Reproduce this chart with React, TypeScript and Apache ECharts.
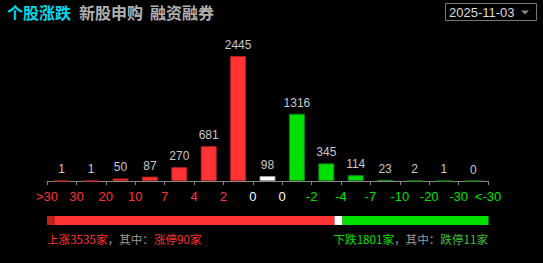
import React, { useEffect, useRef } from "react";
import * as echarts from "echarts";

const bucketLabels = [">30", "30", "20", "10", "7", "4", "2", "0", "0", "-2", "-4", "-7", "-10", "-20", "-30", "<-30"];
const bucketCounts = [1, 1, 50, 87, 270, 681, 2445, 98, 1316, 345, 114, 23, 2, 1, 0];
const upTotal = 3535;
const flatTotal = 98;
const downTotal = 1801;
const limitUp = 90;
const limitDown = 11;
const tabs = ["个股涨跌", "新股申购", "融资融券"];
const dateText = "2025-11-03";

const RED = "#ff3333";
const GREEN = "#00e000";
const WHITE = "#ffffff";
const NUM_FONT = "Liberation Sans";
const CJK_FONT = "Noto Sans CJK SC";

export default function App() {
  const ref = useRef<HTMLDivElement>(null);
  useEffect(() => {
    const chart = echarts.init(ref.current!, null, { renderer: "svg" });
    const barColor = (i: number) => (i < 7 ? RED : i === 7 ? WHITE : GREEN);
    const barBorder = (i: number) => (i < 7 ? "#b02020" : i === 7 ? "#999" : "#108010");
    const labelColor = (i: number) => (i < 7 ? RED : i < 9 ? WHITE : GREEN);
    const total = upTotal + flatTotal + downTotal;
    const hbar = (name: string, v: number, color: string) => ({
      type: "bar",
      name,
      xAxisIndex: 2,
      yAxisIndex: 1,
      stack: "s",
      barWidth: 9,
      data: [v],
      itemStyle: { color },
    });
    const tabX = [7, 79, 150];
    chart.setOption({
      animation: false,
      backgroundColor: "#000",
      grid: [
        { left: 47, right: 55, top: 56, bottom: 82 },
        { left: 47, right: 54, top: 216, height: 9 },
      ],
      xAxis: [
        {
          type: "category",
          gridIndex: 0,
          position: "bottom",
          data: bucketCounts.map((_, i) => String(i)),
          axisLine: { lineStyle: { color: "#888", width: 1 } },
          axisTick: { show: true, length: 4, inside: false, lineStyle: { color: "#888" } },
          axisLabel: { show: false },
        },
        {
          type: "category",
          gridIndex: 0,
          position: "bottom",
          boundaryGap: false,
          data: bucketLabels.map((l, i) => ({ value: l, textStyle: { color: labelColor(i) } })),
          axisLine: { show: false },
          axisTick: { show: false },
          axisLabel: { interval: 0, margin: 9, fontSize: 13, fontFamily: NUM_FONT },
        },
        { type: "value", gridIndex: 1, min: 0, max: total, show: false },
      ],
      yAxis: [
        { type: "value", gridIndex: 0, min: 0, max: 2445, show: false },
        { type: "category", gridIndex: 1, data: ["r"], show: false },
      ],
      series: [
        {
          type: "bar",
          xAxisIndex: 0,
          yAxisIndex: 0,
          barWidth: 16,
          data: bucketCounts.map((v, i) => ({
            value: v,
            itemStyle: { color: barColor(i), borderColor: barBorder(i), borderWidth: 1 },
          })),
          label: {
            show: true,
            position: "top",
            distance: 5,
            color: "#c8c8c8",
            fontSize: 12,
            fontFamily: NUM_FONT,
          },
        },
        hbar("limitUp", limitUp, "#c02018"),
        hbar("up", upTotal - limitUp, RED),
        hbar("flat", flatTotal, WHITE),
        hbar("down", downTotal - limitDown, GREEN),
        hbar("limitDown", limitDown, "#108010"),
      ],
      graphic: [
        ...tabs.map((t, i) => ({
          type: "text",
          x: tabX[i],
          y: 12,
          style: {
            text: t,
            fill: i === 0 ? "#00d8e8" : "#b0b0b0",
            fontSize: 16,
            fontWeight: "bold",
            fontFamily: CJK_FONT,
            verticalAlign: "middle",
          },
        })),
        {
          type: "rect",
          shape: { x: 445.5, y: 3.5, width: 91, height: 17 },
          style: { fill: "#000", stroke: "#777", lineWidth: 1 },
        },
        {
          type: "text",
          x: 449,
          y: 12,
          style: {
            text: dateText,
            fill: "#dddddd",
            fontSize: 13,
            fontFamily: NUM_FONT,
            verticalAlign: "middle",
          },
        },
        {
          type: "polygon",
          shape: { points: [[521, 10.5], [529, 10.5], [525, 14.5]] },
          style: { fill: "#888" },
        },
        {
          type: "text",
          x: 47,
          y: 239,
          style: {
            text: `{r|上涨${upTotal}家}{g|，其中：}{r|涨停${limitUp}家}`,
            verticalAlign: "middle",
            rich: {
              r: { fill: RED, fontSize: 11.6, fontFamily: CJK_FONT },
              g: { fill: "#999", fontSize: 11.6, fontFamily: CJK_FONT },
            },
          },
        },
        {
          type: "text",
          x: 488,
          y: 239,
          style: {
            text: `{r|下跌${downTotal}家}{g|，其中：}{d|跌停${limitDown}家}`,
            verticalAlign: "middle",
            align: "right",
            rich: {
              r: { fill: GREEN, fontSize: 11.6, fontFamily: CJK_FONT },
              g: { fill: "#999", fontSize: 11.6, fontFamily: CJK_FONT },
              d: { fill: "#40c040", fontSize: 11.6, fontFamily: CJK_FONT },
            },
          },
        },
      ],
    });
    return () => chart.dispose();
  }, []);
  return (
    <div
      ref={ref}
      style={{ position: "fixed", left: 0, top: 0, width: 543, height: 263, background: "#000" }}
    />
  );
}
